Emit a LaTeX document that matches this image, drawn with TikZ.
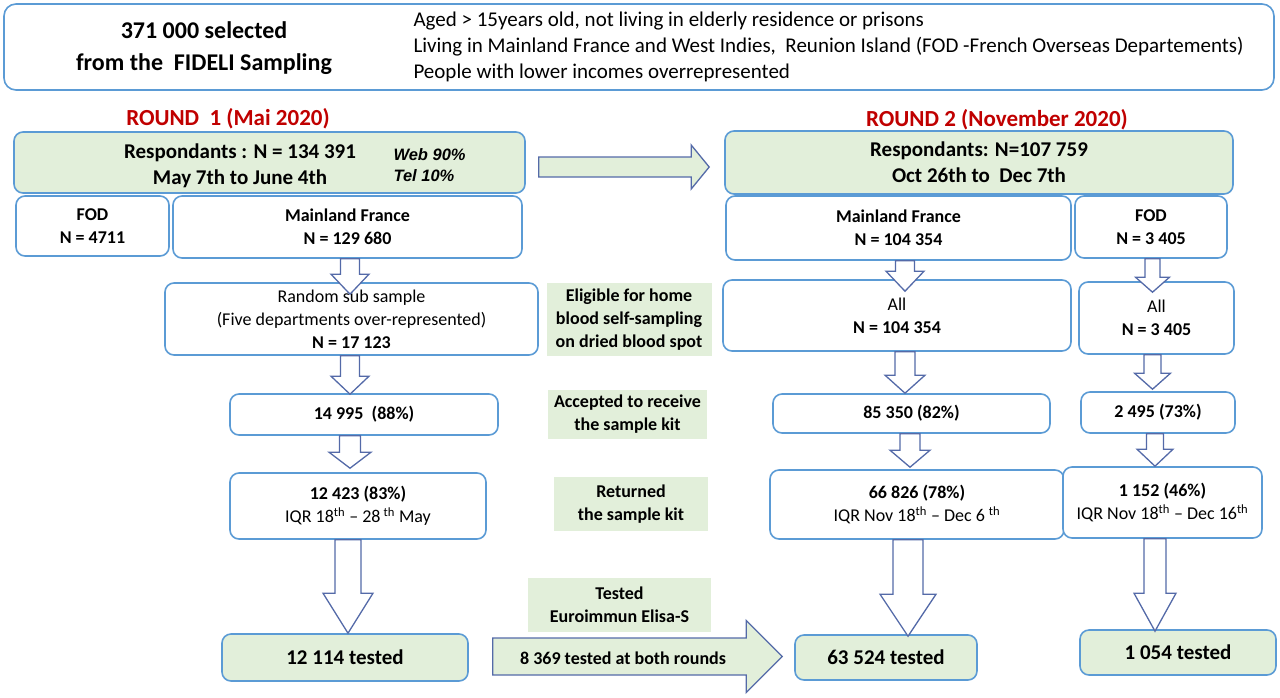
\documentclass[tikz,border=0pt]{standalone}
\usepackage{fontspec}
\setmainfont{Carlito}
\newfontfamily\arialfont{Liberation Sans}
\usetikzlibrary{calc}

\definecolor{boxblue}{RGB}{91,155,213}
\definecolor{arrowblue}{RGB}{84,106,168}
\definecolor{boxgreen}{RGB}{226,239,218}
\definecolor{roundred}{RGB}{192,0,0}

% from, to, x, shaft half width, head half width, head length, overlap
\newcommand{\downflow}[7]{%
  \draw[flowline] let \p1=(#1.south), \p2=(#2.north) in
    (#3pt-#4pt,\y1) -- (#3pt-#4pt,\y2+#6pt-#7pt) -- (#3pt-#5pt,\y2+#6pt-#7pt)
    -- (#3pt,\y2-#7pt) -- (#3pt+#5pt,\y2+#6pt-#7pt) -- (#3pt+#4pt,\y2+#6pt-#7pt)
    -- (#3pt+#4pt,\y1) -- cycle;}
% from, to, y, gap from, gap to, shaft half height, head half height, head length
\newcommand{\sideflow}[8]{%
  \draw[flowline,fill=boxgreen] let \p1=(#1.east), \p2=(#2.west), \p3=(0,#3) in
    (\x1+#4pt,\y3+#6pt) -- (\x2-#5pt-#8pt,\y3+#6pt) -- (\x2-#5pt-#8pt,\y3+#7pt)
    -- (\x2-#5pt,\y3) -- (\x2-#5pt-#8pt,\y3-#7pt) -- (\x2-#5pt-#8pt,\y3-#6pt)
    -- (\x1+#4pt,\y3-#6pt) -- cycle;}

\begin{document}
\begin{tikzpicture}[x=1pt,y=-1pt,
    stagebox/.style={draw=boxblue, line width=1.6pt, rounded corners=9pt, fill=white,
      align=center, inner sep=2pt, font=\fontsize{18}{23}\selectfont\bfseries},
    testbox/.style={stagebox, fill=boxgreen, font=\fontsize{21}{25}\selectfont\bfseries},
    stepnote/.style={fill=boxgreen, align=center, inner sep=2pt,
      font=\fontsize{18}{23}\selectfont\bfseries},
    roundtitle/.style={text=roundred, font=\fontsize{23}{28}\selectfont\bfseries},
    flowline/.style={draw=arrowblue, line width=1.3pt, fill=white, line join=miter}]

    \useasboundingbox (0,0) rectangle (1280,697);

    % sampling frame
    \node[stagebox, rounded corners=12pt, minimum width=1270pt, minimum height=86pt] (frame) at (639,47) {};
    \node[font=\fontsize{24}{32}\selectfont\bfseries, align=center] (selected) at (204,48) {371 000 selected\\from the~ FIDELI Sampling};
    \node[font=\fontsize{21}{26}\selectfont, align=left, anchor=west] (criteria) at (410,47)
      {Aged > 15years old, not living in elderly residence or prisons\\
       Living in Mainland France and West Indies,~ Reunion Island (FOD -French Overseas Departements)\\
       People with lower incomes overrepresented};

    \node[roundtitle, anchor=base] (round1) at (228,125) {ROUND~ 1 (Mai 2020)};
    \node[roundtitle, anchor=base] (round2) at (997,126) {ROUND 2 (November 2020)};

    % respondants
    \node[stagebox, fill=boxgreen, minimum width=511pt, minimum height=61pt] (resp1) at (269.5,162.5) {};
    \node[font=\fontsize{21}{26}\selectfont\bfseries, align=center] (resp1text) at (240,166) {Respondants : N = 134 391\\May 7th to June 4th};
    \node[font=\arialfont\fontsize{16.5}{21}\selectfont\bfseries\itshape, align=left, anchor=west] (mode1) at (390,165) {Web 90\%\\Tel 10\%};
    \node[stagebox, fill=boxgreen, minimum width=508pt, minimum height=63pt, font=\fontsize{21}{26}\selectfont\bfseries] (resp2) at (979,162.5) {Respondants: N=107 759\\Oct 26th to~ Dec 7th};

    \node[stagebox, minimum width=153pt, minimum height=60pt] (fod1) at (92.5,226) {FOD\\N = 4711};
    \node[stagebox, minimum width=349pt, minimum height=62pt] (main1) at (347.5,227) {Mainland France\\N = 129 680};
    \node[stagebox, minimum width=345pt, minimum height=64pt] (main2) at (898.5,228) {Mainland France\\N = 104 354};
    \node[stagebox, minimum width=152pt, minimum height=62pt] (fod2) at (1151,227) {FOD\\N = 3 405};

    % steps
    \node[stagebox, minimum width=373pt, minimum height=72pt] (rand1) at (351.5,319) {{\mdseries Random sub sample}\\{\mdseries (Five departments over-represented)}\\N = 17 123};
    \node[stagebox, minimum width=348pt, minimum height=71pt] (all2) at (897,315.5) {{\mdseries All}\\N = 104 354};
    \node[stagebox, minimum width=155pt, minimum height=72pt] (allf) at (1156.5,318) {{\mdseries All}\\N = 3 405};

    \node[stagebox, minimum width=268pt, minimum height=41pt] (acc1) at (364,414.5) {14 995~ (88\%)};
    \node[stagebox, minimum width=277pt, minimum height=39pt] (acc2) at (911.5,413.5) {85 350 (82\%)};
    \node[stagebox, minimum width=154pt, minimum height=41pt] (accf) at (1158,412.5) {2 495 (73\%)};

    \node[stagebox, minimum width=256pt, minimum height=66pt] (ret1) at (358,506) {12 423 (83\%)\\{\mdseries IQR 18\textsuperscript{th} -- 28\,\textsuperscript{th} May}};
    \node[stagebox, minimum width=294pt, minimum height=69pt] (ret2) at (917,504.5) {66 826 (78\%)\\{\mdseries IQR Nov 18\textsuperscript{th} -- Dec 6 \textsuperscript{th}}};
    \node[stagebox, minimum width=199pt, minimum height=71pt] (retf) at (1162.5,502.5) {1 152 (46\%)\\{\mdseries IQR Nov 18\textsuperscript{th} -- Dec 16\textsuperscript{th}}};

    \node[testbox, minimum width=246pt, minimum height=47pt] (test1) at (345,657.5) {12 114 tested};
    \node[testbox, minimum width=182pt, minimum height=45pt] (test2) at (886,657.5) {63 524 tested};
    \node[testbox, minimum width=196pt, minimum height=45pt] (testf) at (1178,652.5) {1 054 tested};

    % step notes
    \node[stepnote, minimum width=165pt, minimum height=73pt] (elig) at (629,319.5) {Eligible for home\\blood self-sampling\\on dried blood spot};
    \node[stepnote, minimum width=159pt, minimum height=49pt] (accnote) at (627.5,414.5) {Accepted to receive\\the sample kit};
    \node[stepnote, minimum width=154pt, minimum height=54pt] (retnote) at (631,504) {Returned\\the sample kit};
    \node[stepnote, minimum width=183pt, minimum height=54pt] (testnote) at (619.5,605) {Tested\\Euroimmun Elisa-S};

    % block arrows
    \downflow{main1}{rand1}{350}{9.5}{19}{20}{12}
    \downflow{rand1}{acc1}{350}{9.5}{19}{18}{1}
    \downflow{acc1}{ret1}{350}{10.5}{21}{16}{-4}
    \downflow{ret1}{test1}{348}{13}{25}{40}{0}
    \downflow{main2}{all2}{905}{9.5}{19}{20}{12}
    \downflow{all2}{acc2}{905}{10}{20}{18}{0}
    \downflow{acc2}{ret2}{910}{10}{20}{17}{-2}
    \downflow{ret2}{test2}{908}{15}{28}{42}{2}
    \downflow{fod2}{allf}{1152.5}{7.5}{17}{15}{11}
    \downflow{allf}{accf}{1152.5}{8.5}{18}{16}{-2}
    \downflow{accf}{retf}{1155}{8.5}{18}{17}{0}
    \downflow{retf}{testf}{1155}{11}{21}{38}{2}

    \sideflow{resp1}{resp2}{167}{13}{15}{10}{22}{18}
    \sideflow{test1}{test2}{656.5}{24}{12}{18.5}{36}{36}
    \node[font=\fontsize{18}{22}\selectfont\bfseries] (both) at (623,658) {8 369 tested at both rounds};

\end{tikzpicture}
\end{document}
